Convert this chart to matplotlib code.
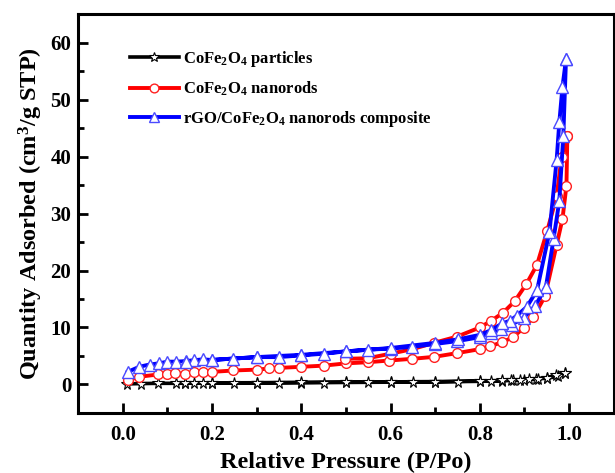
import matplotlib
matplotlib.use("Agg")
import matplotlib.pyplot as plt
from matplotlib.ticker import MultipleLocator

plt.rcParams['font.family'] = ['Liberation Serif', 'DejaVu Serif']
plt.rcParams['font.weight'] = 'bold'
plt.rcParams['mathtext.fontset'] = 'custom'
plt.rcParams['mathtext.rm'] = 'Liberation Serif:bold'
plt.rcParams['mathtext.it'] = 'Liberation Serif:bold'
plt.rcParams['mathtext.bf'] = 'Liberation Serif:bold'

# CoFe2O4 particles (adsorption then desorption)
p_ads_x = [0.01, 0.04, 0.08, 0.12, 0.14, 0.16, 0.18, 0.20, 0.25, 0.30, 0.35, 0.40,
           0.45, 0.50, 0.55, 0.60, 0.65, 0.70, 0.75, 0.80, 0.825, 0.85, 0.875,
           0.90, 0.925, 0.95, 0.975, 0.99]
p_ads_y = [0.1, 0.15, 0.2, 0.2, 0.22, 0.22, 0.24, 0.25, 0.25, 0.3, 0.3, 0.32,
           0.34, 0.35, 0.38, 0.4, 0.42, 0.45, 0.5, 0.55, 0.6, 0.65, 0.75,
           0.85, 0.95, 1.1, 1.4, 2.0]
p_des_x = [0.99, 0.97, 0.95, 0.93, 0.91, 0.89, 0.87, 0.85, 0.80, 0.70, 0.60,
           0.50, 0.40, 0.30, 0.20, 0.14]
p_des_y = [2.0, 1.6, 1.2, 1.0, 0.9, 0.8, 0.75, 0.7, 0.6, 0.5, 0.45,
           0.4, 0.35, 0.3, 0.28, 0.25]

# CoFe2O4 nanorods
n_ads_x = [0.011, 0.037, 0.079, 0.10, 0.118, 0.139, 0.159, 0.179, 0.199, 0.248,
           0.30, 0.328, 0.349, 0.40, 0.45, 0.50, 0.549, 0.597, 0.649, 0.698,
           0.749, 0.80, 0.822, 0.85, 0.874, 0.898, 0.92, 0.946, 0.972, 0.985,
           0.994, 0.996]
n_ads_y = [0.75, 1.35, 1.75, 1.9, 2.0, 1.85, 2.1, 2.2, 2.2, 2.45,
           2.6, 2.8, 2.9, 3.1, 3.3, 3.7, 3.9, 4.2, 4.5, 4.85,
           5.5, 6.2, 6.7, 7.4, 8.3, 9.9, 11.8, 15.5, 24.5, 29.0,
           34.9, 43.7]
n_des_x = [0.996, 0.983, 0.972, 0.951, 0.928, 0.904, 0.878, 0.852, 0.826, 0.80,
           0.749, 0.697, 0.649, 0.60, 0.549, 0.499]
n_des_y = [43.7, 39.9, 33.0, 27.0, 21.0, 17.6, 14.6, 12.6, 11.2, 10.0,
           8.4, 7.3, 6.2, 5.4, 4.6, 4.5]

# rGO/CoFe2O4 nanorods composite
r_ads_x = [0.011, 0.037, 0.06, 0.081, 0.10, 0.12, 0.141, 0.159, 0.179, 0.20,
           0.248, 0.30, 0.349, 0.40, 0.45, 0.50, 0.549, 0.60, 0.649, 0.699,
           0.749, 0.80, 0.824, 0.847, 0.872, 0.898, 0.924, 0.948, 0.965,
           0.978, 0.987, 0.993]
r_ads_y = [2.2, 3.1, 3.5, 3.7, 4.0, 4.0, 4.1, 4.25, 4.4, 4.3,
           4.55, 4.8, 4.8, 5.1, 5.4, 5.8, 6.1, 6.3, 6.6, 7.1,
           7.6, 8.3, 9.0, 9.8, 10.5, 11.7, 13.8, 17.1, 25.5,
           32.2, 43.7, 57.1]
r_des_x = [0.993, 0.985, 0.978, 0.972, 0.956, 0.928, 0.905, 0.883, 0.868, 0.85,
           0.824, 0.80, 0.75, 0.70, 0.60, 0.50, 0.40, 0.30, 0.20, 0.141]
r_des_y = [57.1, 52.2, 46.0, 39.4, 26.8, 16.5, 13.6, 12.1, 11.2, 10.7,
           9.5, 8.7, 7.9, 7.3, 6.4, 5.8, 5.2, 4.8, 4.3, 3.9]

labels = [r'CoFe$_2$O$_4$ particles', r'CoFe$_2$O$_4$ nanorods',
          r'rGO/CoFe$_2$O$_4$ nanorods composite']

fig = plt.figure(figsize=(6.15, 4.73), dpi=100)
ax = fig.add_axes([0.127, 0.127, 0.871, 0.843])

ax.plot(p_ads_x + p_des_x, p_ads_y + p_des_y, color='black', lw=2.6,
        marker='*', ms=8.5, mfc='white', mec='black', mew=0.8, label=labels[0])
ax.plot(n_ads_x + n_des_x, n_ads_y + n_des_y, color='#ff0000', lw=2.8,
        marker='o', ms=7, mfc='white', mec='#ff2020', mew=1.0, label=labels[1])
ax.plot(r_ads_x + r_des_x, r_ads_y + r_des_y, color='#0000ff', lw=2.8,
        marker='^', ms=8.5, mfc='white', mec='#4a4aff', mew=1.0, label=labels[2])

ax.set_xlim(-0.1, 1.1)
ax.set_ylim(-5, 65)
ax.xaxis.set_major_locator(MultipleLocator(0.2))
ax.xaxis.set_minor_locator(MultipleLocator(0.1))
ax.yaxis.set_major_locator(MultipleLocator(10))
ax.yaxis.set_minor_locator(MultipleLocator(5))
ax.set_xticks([0.0, 0.2, 0.4, 0.6, 0.8, 1.0])
ax.set_xticklabels(['0.0', '0.2', '0.4', '0.6', '0.8', '1.0'])

for s in ax.spines.values():
    s.set_linewidth(2.2)
ax.tick_params(which='major', direction='in', length=7, width=2, labelsize=15)
ax.tick_params(axis='x', which='major', pad=9)
ax.tick_params(axis='y', which='major', pad=5)
ax.tick_params(which='minor', direction='in', length=4, width=2)

ax.set_xlabel('Relative Pressure (P/Po)', fontsize=17.5, fontweight='bold', labelpad=5)
ax.set_ylabel(r'Quantity Adsorbed (cm$^3$/g STP)', fontsize=17.5, fontweight='bold', labelpad=4)

ax.legend(loc='upper left', bbox_to_anchor=(0.085, 0.93), frameon=False,
          fontsize=12, handlelength=2.9, handletextpad=0.25, labelspacing=0.65,
          markerscale=0.9, borderaxespad=0)

fig.savefig('out.png', dpi=100)
